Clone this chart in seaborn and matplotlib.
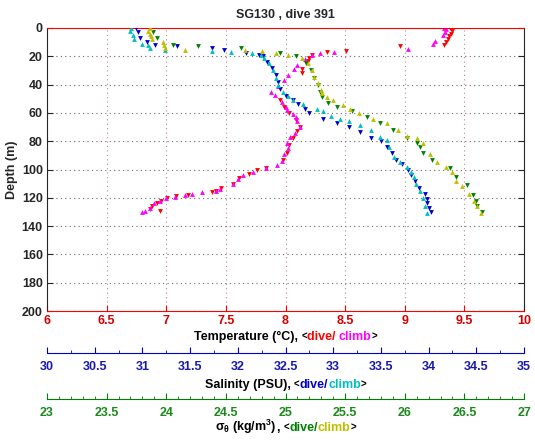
import numpy as np
import pandas as pd
import seaborn as sns
import matplotlib
matplotlib.use("Agg")
import matplotlib.pyplot as plt
from matplotlib.ticker import MultipleLocator

# temperature, dive (red) / climb (magenta)
temp_dive_depth = [0, 2, 4, 6, 8, 10, 12, 13, 16, 17, 19, 21, 23, 25, 29, 32, 51, 56, 60, 65,
                   70, 73, 78, 83, 88, 93, 99, 100, 103, 106, 110, 113, 115, 116, 118, 119,
                   120, 122, 124, 126, 128, 129.6]
temp_dive = [9.38, 9.40, 9.39, 9.37, 9.36, 9.35, 9.33, 8.96, 8.51, 8.35, 8.22, 8.20, 8.19, 8.17,
             8.14, 8.14, 7.95, 7.99, 8.03, 8.09, 8.12, 8.10, 8.06, 8.03, 8.01, 7.98, 7.84, 7.76,
             7.69, 7.61, 7.56, 7.46, 7.42, 7.38, 7.18, 7.08, 7.01, 6.96, 6.92, 6.88, 6.86, 6.95]
temp_climb_depth = [0, 1, 3, 5, 9, 11, 15, 17, 17.5, 19, 22, 26, 29, 33, 37, 41, 45, 47, 52, 56,
                    58, 61, 63, 66, 70, 74, 77, 81, 85, 89, 94, 97, 99, 102, 104, 107, 110, 114,
                    115, 116, 117, 118, 119.5, 120, 122, 124, 127, 129, 130]
temp_climb = [9.33, 9.35, 9.34, 9.32, 9.25, 9.24, 9.03, 8.41, 8.29, 8.22, 8.16, 8.10, 8.07, 8.02,
              7.99, 7.94, 7.88, 7.91, 7.97, 8.00, 8.01, 8.06, 8.09, 8.10, 8.12, 8.08, 8.04, 8.01,
              8.02, 7.99, 7.97, 7.93, 7.84, 7.73, 7.64, 7.60, 7.56, 7.45, 7.42, 7.30, 7.22, 7.16,
              7.07, 7.00, 6.95, 6.90, 6.86, 6.82, 6.80]

# salinity, dive (blue) / climb (cyan)
sal_dive_depth = [0, 3, 7, 10, 12, 13, 14, 15.5, 17.5, 19, 20, 24, 28, 33, 38, 43, 48, 51, 54, 57,
                  60, 64, 67, 70, 73.5, 78, 80, 84, 88, 93, 96, 100, 104, 108, 113, 117, 121,
                  124, 127, 130]
sal_dive = [30.93, 30.95, 30.97, 31.05, 31.13, 31.36, 31.73, 31.86, 32.09, 32.22, 32.26, 32.31,
            32.36, 32.40, 32.42, 32.44, 32.50, 32.58, 32.63, 32.70, 32.75, 32.89, 33.04, 33.17,
            33.28, 33.40, 33.50, 33.56, 33.62, 33.66, 33.72, 33.78, 33.82, 33.86, 33.90, 33.96,
            33.98, 33.98, 34.00, 34.02]
sal_climb_depth = [0, 2, 5, 8, 11, 12, 14, 15.5, 16.5, 17, 18, 19, 21, 25, 30, 35, 40, 45, 48, 51,
                   54, 57, 59, 62, 64, 66, 68.5, 72, 77, 79, 84, 91, 95, 98, 102, 105, 110, 115,
                   120, 126, 131]
sal_climb = [30.88, 30.87, 30.90, 30.91, 31.00, 31.06, 31.08, 31.24, 31.73, 31.93, 32.15, 32.24,
             32.27, 32.33, 32.37, 32.40, 32.42, 32.47, 32.53, 32.58, 32.68, 32.83, 32.89, 32.98,
             33.07, 33.17, 33.28, 33.40, 33.49, 33.56, 33.59, 33.64, 33.70, 33.77, 33.82, 33.85,
             33.87, 33.91, 33.94, 33.96, 33.98]

# sigma-theta, dive (green) / climb (olive)
sig_dive_depth = [2.5, 7, 12, 13, 14, 17.5, 20, 25, 30, 35, 40, 45, 49, 53, 56, 59, 63, 67, 72, 78,
                  81, 84, 88, 93, 99, 105, 111, 118, 122, 126, 130]
sig_dive = [23.89, 23.92, 24.06, 24.27, 24.63, 24.95, 25.09, 25.17, 25.21, 25.24, 25.27, 25.29,
            25.31, 25.36, 25.43, 25.56, 25.68, 25.79, 25.90, 26.02, 26.10, 26.13, 26.15, 26.23,
            26.38, 26.43, 26.52, 26.57, 26.60, 26.61, 26.65]
sig_climb_depth = [0, 2, 4, 6, 8, 10, 12, 14, 15.5, 15.5, 16.5, 18, 19, 21, 24.5, 29.5, 34.5, 39,
                   43.5, 46, 48.5, 51, 54.5, 57, 60, 64, 67, 72, 76, 78, 81, 89, 95, 98, 102, 108,
                   112, 117, 122, 126, 131]
sig_climb = [23.86, 23.85, 23.86, 23.87, 23.88, 23.97, 23.98, 23.99, 24.16, 24.66, 24.80, 24.92,
             25.02, 25.14, 25.19, 25.22, 25.24, 25.27, 25.30, 25.31, 25.35, 25.40, 25.48, 25.54,
             25.62, 25.73, 25.85, 25.94, 26.02, 26.10, 26.15, 26.21, 26.27, 26.35, 26.40, 26.43,
             26.48, 26.54, 26.58, 26.61, 26.64]

title = "SG130 , dive 391"
depth_ticks = list(range(0, 201, 20))

RED, MAGENTA = "#ff0000", "#ff00ff"
BLUE, CYAN = "#0000cc", "#00bfbf"
GREEN, OLIVE = "#008000", "#bfbf00"
RED_TXT, BLUE_TXT, GREEN_TXT = "#d40000", "#1a1aaa", "#1a8a1a"
FS = 9

sns.set_style("ticks")
plt.rcParams['font.family'] = ['Liberation Sans', 'DejaVu Sans']
plt.rcParams['font.weight'] = 'bold'
plt.rcParams['font.size'] = FS
plt.rcParams['mathtext.default'] = 'regular'

W, H = 535, 442
fig = plt.figure(figsize=(W / 100, H / 100), dpi=100)
L, R = 47 / W, 524 / W
ax = fig.add_axes([L, 1 - 311 / H, R - L, (311 - 28) / H])


def px(y):
    return 1 - y / H


def scatter(axis, xs, ds, color, marker):
    df = pd.DataFrame({'x': xs, 'depth': ds})
    sns.scatterplot(data=df, x='x', y='depth', ax=axis, color=color, marker=marker,
                    s=12, linewidth=0, legend=False)


# temperature on the main axes
scatter(ax, temp_dive, temp_dive_depth, RED, 'v')
scatter(ax, temp_climb, temp_climb_depth, MAGENTA, '^')
ax.set_xlim(6, 10)
ax.set_ylim(200, 0)
ax.set_yticks(depth_ticks)
ax.xaxis.set_major_locator(MultipleLocator(0.5))
ax.tick_params(axis='x', direction='in', top=True, length=4, colors=RED, labelcolor=RED_TXT,
               labelsize=FS, pad=3)
ax.tick_params(axis='y', direction='in', right=True, length=4, labelsize=FS, pad=3)
ax.xaxis.set_major_formatter(matplotlib.ticker.FormatStrFormatter('%g'))
ax.grid(True, axis='x', linestyle=(0, (1, 3)), color='#b58a8a', linewidth=0.8)
ax.grid(True, axis='y', linestyle=(0, (1, 3)), color='#666666', linewidth=0.8)
for side in ['top', 'bottom']:
    ax.spines[side].set_color(RED)
ax.set_xlabel('')
ax.set_ylabel('Depth (m)', fontsize=FS, fontweight='bold', labelpad=3)
ax.set_title(title, fontsize=FS, fontweight='bold', pad=7)

# overlays for salinity and sigma sharing the depth axis
ax_s = ax.twiny()
ax_s.set_xlim(30, 35)
scatter(ax_s, sal_dive, sal_dive_depth, BLUE, 'v')
scatter(ax_s, sal_climb, sal_climb_depth, CYAN, '^')
ax_g = ax.twiny()
ax_g.set_xlim(23, 27)
scatter(ax_g, sig_dive, sig_dive_depth, GREEN, 'v')
scatter(ax_g, sig_climb, sig_climb_depth, OLIVE, '^')
for a in (ax_s, ax_g):
    a.set_ylim(200, 0)
    a.set_xticks([])
    a.set_xlabel('')
    a.set_ylabel('')
    for sp in a.spines.values():
        sp.set_visible(False)


def bottom_axis(y, lo, hi, minor, color, txtcolor):
    b = fig.add_axes([L, px(y), R - L, 0.0001])
    b.set_xlim(lo, hi)
    b.set_yticks([])
    for side in ['left', 'right', 'top']:
        b.spines[side].set_visible(False)
    b.spines['bottom'].set_color(color)
    b.patch.set_visible(False)
    b.xaxis.set_major_locator(MultipleLocator(0.5))
    b.xaxis.set_minor_locator(MultipleLocator(minor))
    b.xaxis.set_major_formatter(matplotlib.ticker.FormatStrFormatter('%g'))
    b.tick_params(axis='x', which='major', direction='in', length=4, colors=color,
                  labelcolor=txtcolor, labelsize=FS, pad=6)
    b.tick_params(axis='x', which='minor', direction='in', length=2, colors=color)
    return b


bottom_axis(353, 30, 35, 0.25, BLUE, BLUE_TXT)
bottom_axis(399, 23, 27, 0.1, GREEN, GREEN_TXT)


def color_label(y, parts, size=FS):
    texts = []
    for s, c, sz in parts:
        texts.append(fig.text(0, px(y), s, color=c, fontsize=sz if sz else size,
                              fontweight='bold', va='baseline', ha='left'))
    fig.canvas.draw()
    rend = fig.canvas.get_renderer()
    widths = [t.get_window_extent(rend).width for t in texts]
    x = (L + R) / 2 * W - sum(widths) / 2
    for t, w in zip(texts, widths):
        t.set_x(x / W)
        x += w


color_label(340, [("Temperature (°C), ", 'black', None), ("<", 'black', 7),
                  ("dive/ ", RED, None), ("climb", MAGENTA, None), (">", 'black', 7)])
color_label(388, [("Salinity (PSU), ", 'black', None), ("<", 'black', 7),
                  ("dive/", BLUE, None), ("climb", CYAN, None), (">", 'black', 7)])
color_label(431, [(r"$\sigma_\theta$ (kg/m$^3$)", 'black', None), (", ", 'black', None),
                  ("<", 'black', 7), ("dive/", GREEN, None), ("climb", OLIVE, None),
                  (">", 'black', 7)])

fig.savefig("out.png", dpi=100)
